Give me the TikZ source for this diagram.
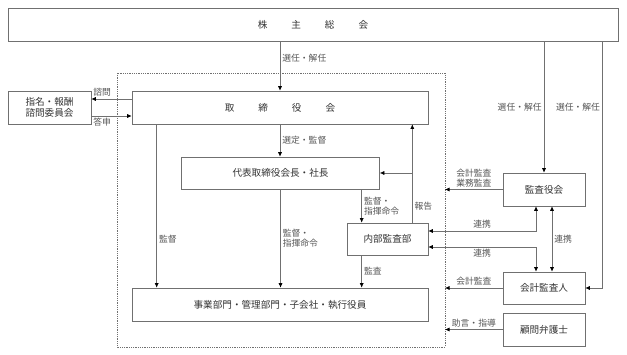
\documentclass[tikz,border=0pt]{standalone}
\usepackage{fontspec}
\setmainfont{Noto Sans CJK JP}
\usepackage{xcolor}
\usepackage{tikz}
\usetikzlibrary{arrows.meta, positioning}

\definecolor{linegray}{HTML}{707070}
\definecolor{boxtext}{HTML}{333333}
\definecolor{lbltext}{HTML}{555555}
\newcommand{\kgap}{\hspace{24pt}}

\tikzset{
  box/.style={draw=linegray, text=boxtext, inner sep=0pt, minimum height=33pt,
    font=\fontsize{9.6}{11}\selectfont, align=center},
  lbl/.style={text=lbltext, inner sep=2pt, font=\fontsize{8.8}{10}\selectfont},
}

\begin{document}
\begin{tikzpicture}[x=1pt, y=-1pt, ->, >={Latex[length=4.5pt,width=4pt,black]}, line width=0.6pt, linegray]
    \useasboundingbox (0,0) rectangle (627,355);
    % dotted frame round the company side
    \draw[-, densely dotted, line width=0.8pt] (117,73) rectangle (445,347);
    \coordinate (fne) at (445,73);

    \node[box, minimum width=610pt] (sokai) at (313,24.5) {株\kgap 主\kgap 総\kgap 会};
    \node[box, minimum width=83pt] (shimei) at (49.5,107.5) {指名・報酬\\諮問委員会};
    \node[box, minimum width=296pt] (board) at (280,107.5) {取\kgap 締\kgap 役\kgap 会};
    \node[box, minimum width=198pt, minimum height=32pt] (ceo) at (280.5,173) {代表取締役会長・社長};
    \node[box, minimum width=81pt, minimum height=32pt] (naibu) at (387.5,239) {内部監査部};
    \node[box, minimum width=296pt] (jigyo) at (280,304.5) {事業部門・管理部門・子会社・執行役員};
    \node[box, minimum width=82pt] (kansayaku) at (544,189.5) {監査役会};
    \node[box, minimum width=82pt, minimum height=32pt] (kaikei) at (544,288) {会計監査人};
    \node[box, minimum width=82pt] (komon) at (544,329.5) {顧問弁護士};

    % shareholders
    \draw (sokai.south -| board.north) -- node[lbl, right, pos=0.35] (l1) {選任・解任} (board.north);
    \draw (sokai.south -| kansayaku.north) -- node[lbl, left] (l2) {選任・解任} (kansayaku.north);
    \draw ([xshift=17pt]kaikei.east |- sokai.south) |- node[lbl, left, pos=0.134] (l3) {選任・解任} (kaikei.east);

    % committee
    \draw ([yshift=8.5pt]board.west) -- node[lbl, above, pos=0.73] (l4) {諮問} ([yshift=8.5pt]board.west -| shimei.east);
    \draw ([yshift=-8.5pt]shimei.east) -- node[lbl, below, pos=0.27] (l5) {答申} ([yshift=-8.5pt]shimei.east -| board.west);

    % board and executives
    \draw (board.south) -- node[lbl, right] (l6) {選定・監督} (board.south |- ceo.north);
    \draw ([xshift=25pt]board.south west) -- node[lbl, right, pos=0.7] (l7) {監督} ([xshift=25pt]board.south west |- jigyo.north);
    \draw (ceo.south) -- node[lbl, right, align=left] (l8) {監督・\\指揮命令} (ceo.south |- jigyo.north);
    \draw ([xshift=15pt]naibu.north west |- ceo.south) -- node[lbl, right, align=left] (l9) {監督・\\指揮命令} ([xshift=15pt]naibu.north west);
    \draw ([xshift=-16pt]naibu.north east) -- node[lbl, right, pos=0.17] (l10) {報告} ([xshift=-16pt]naibu.north east |- board.south);
    \draw ([xshift=-16pt]naibu.north east |- ceo.east) -- (ceo.east);
    \draw ([xshift=15pt]naibu.south west) -- node[lbl, right] (l11) {監査} ([xshift=15pt]naibu.south west |- jigyo.north);

    % audit side
    \draw[<->] ([xshift=-8pt]kansayaku.south) |- node[lbl, above, pos=0.75] (l12) {連携} ([yshift=8pt]naibu.east);
    \draw[<->] ([yshift=-8pt]naibu.east) -| node[lbl, below, pos=0.25] (l13) {連携} ([xshift=-8pt]kaikei.north);
    \draw[<->] ([xshift=8pt]kansayaku.south) -- node[lbl, right] (l14) {連携} ([xshift=8pt]kaikei.north);
    \draw (kansayaku.west) -- node[lbl, above, align=right] (l15) {会計監査\\業務監査} (kansayaku.west -| fne);
    \draw (kaikei.west) -- node[lbl, above] (l16) {会計監査} (kaikei.west -| fne);
    \draw (komon.west) -- node[lbl, above] (l17) {助言・指導} (komon.west -| fne);
  \end{tikzpicture}
\end{document}
